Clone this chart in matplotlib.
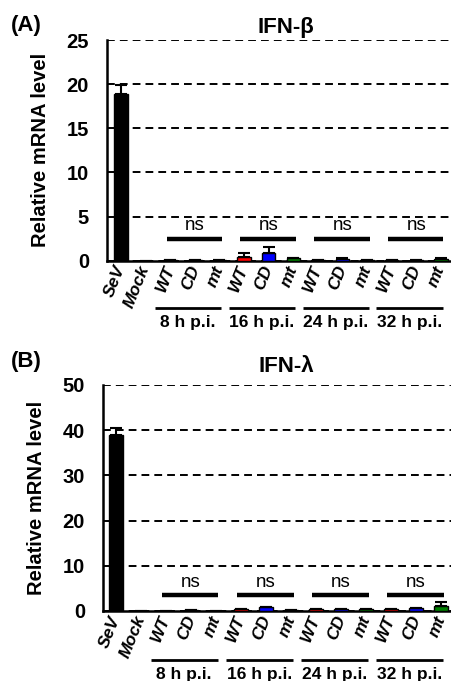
import matplotlib
matplotlib.use("Agg")
import matplotlib.pyplot as plt
from matplotlib.transforms import blended_transform_factory
import numpy as np

plt.rcParams['font.family'] = ['Liberation Sans', 'DejaVu Sans']

# sample labels and colours
labels = ['SeV', 'Mock', 'WT', 'CD', 'mt', 'WT', 'CD', 'mt',
          'WT', 'CD', 'mt', 'WT', 'CD', 'mt']
colors = ['black', 'black'] + ['red', 'blue', 'green'] * 4
groups = ['8 h p.i.', '16 h p.i.', '24 h p.i.', '32 h p.i.']

# IFN-beta
beta_vals = [18.9, 0.0, 0.12, 0.1, 0.12, 0.45, 0.85, 0.25,
             0.1, 0.2, 0.12, 0.1, 0.12, 0.2]
beta_err = [1.0, 0.0, 0.0, 0.0, 0.0, 0.4, 0.7, 0.0,
            0.0, 0.1, 0.0, 0.0, 0.0, 0.05]

# IFN-lambda
lam_vals = [38.9, 0.0, 0.1, 0.3, 0.1, 0.5, 0.9, 0.3,
            0.5, 0.4, 0.45, 0.5, 0.6, 1.2]
lam_err = [1.5, 0.0, 0.0, 0.0, 0.0, 0.0, 0.0, 0.0,
           0.0, 0.0, 0.0, 0.0, 0.0, 0.8]

W, H = 452, 681
fig = plt.figure(figsize=(W / 100, H / 100), dpi=100)


def draw_panel(ax, vals, errs, ymax, step, xlim, sig_y, ns_y):
    x = np.arange(len(vals))
    ax.bar(x, vals, width=0.55, color=colors, edgecolor='black', linewidth=1.0,
           zorder=3)
    lo = np.zeros(len(errs))
    ax.errorbar(x, vals, yerr=[lo, errs], fmt='none', ecolor='black',
                elinewidth=1.5, capsize=4, capthick=1.5, zorder=4)

    ax.set_xlim(*xlim)
    ax.set_ylim(0, ymax)
    ax.set_yticks(np.arange(0, ymax + 1, step))
    ax.yaxis.grid(True, color='black', linestyle=(0, (4, 2.6)), linewidth=1.4)
    ax.set_axisbelow(True)
    for s in ['top', 'right']:
        ax.spines[s].set_visible(False)
    for s in ['left', 'bottom']:
        ax.spines[s].set_linewidth(1.8)
    ax.tick_params(axis='y', length=0, pad=13, labelsize=14.5)
    ax.tick_params(axis='x', length=0, pad=4)
    for lbl in ax.get_yticklabels():
        lbl.set_fontweight('bold')

    ax.set_xticks(x)
    ax.set_xticklabels(labels, rotation=68, ha='right', va='center',
                       rotation_mode='anchor', fontsize=12.5,
                       fontweight='bold', fontstyle='italic')

    ax.set_ylabel('Relative mRNA level', fontsize=14.5, fontweight='bold',
                  labelpad=12)

    # ns brackets
    for g in range(4):
        s = 2 + 3 * g
        ax.plot([s - 0.15, s + 2.1], [sig_y, sig_y], color='black', lw=3.2,
                solid_capstyle='butt', zorder=3)
        ax.text(s + 1, ns_y, 'ns', ha='center', va='center', fontsize=13.5)

    # time group lines under the tick labels
    tr = blended_transform_factory(ax.transData, ax.transAxes)
    for g, name in enumerate(groups):
        s = 2 + 3 * g
        ax.plot([s - 0.62, s + 2.08], [-0.215, -0.215], color='black', lw=2,
                transform=tr, clip_on=False, solid_capstyle='butt')
        ax.text(s + 0.73, -0.282, name, transform=tr, ha='center', va='center',
                fontsize=12.5, fontweight='bold')


ax1 = fig.add_axes([107 / W, 1 - 260.7 / H, 1 - 107 / W, 220.7 / H])
draw_panel(ax1, beta_vals, beta_err, 25, 5, (-0.57, 13.45), 2.5, 4.0)
ax2 = fig.add_axes([103 / W, 1 - 611 / H, 1 - 103 / W, 226 / H])
draw_panel(ax2, lam_vals, lam_err, 50, 10, (-0.52, 13.44), 3.6, 6.3)

fig.text(286 / W, 1 - 27 / H, 'IFN-β', ha='center', va='center',
         fontsize=16, fontweight='bold')
fig.text(11 / W, 1 - 25 / H, '(A)', ha='left', va='center',
         fontsize=16, fontweight='bold')
fig.text(286 / W, 1 - 367 / H, 'IFN-λ', ha='center', va='center',
         fontsize=16, fontweight='bold')
fig.text(11 / W, 1 - 362 / H, '(B)', ha='left', va='center',
         fontsize=16, fontweight='bold')

fig.savefig('out.png', dpi=100)
